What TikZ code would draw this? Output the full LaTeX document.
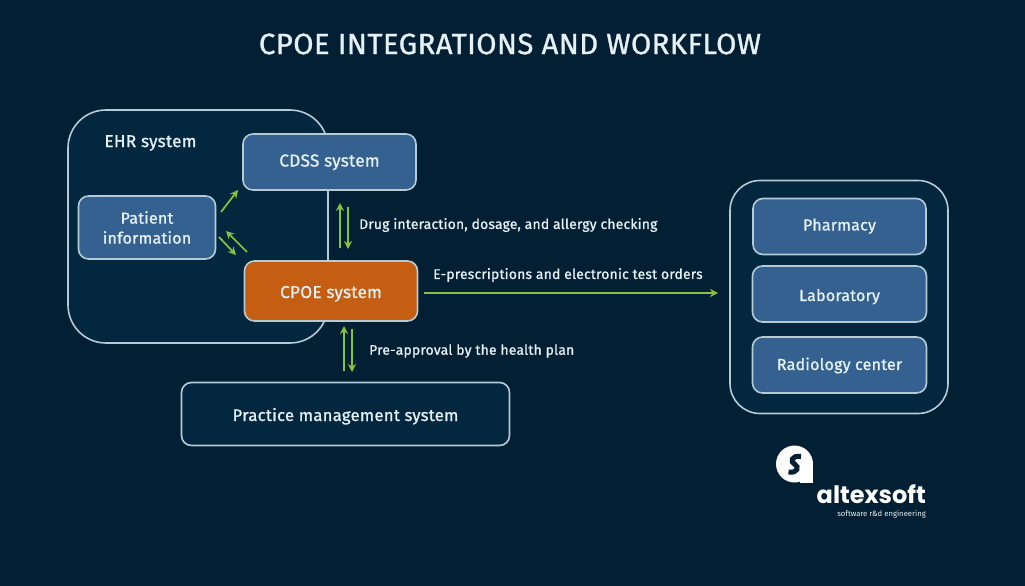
\documentclass[tikz,border=0pt]{standalone}
\usepackage{fontspec}
\setmainfont{Fira Sans}[FakeBold=1,LetterSpace=1.5]
\newfontfamily\logofont{Poppins}
\newfontfamily\tagfont{Fira Sans}
\usetikzlibrary{arrows.meta,calc}
\definecolor{bgnavy}{HTML}{031F33}
\definecolor{panel}{HTML}{02273F}
\definecolor{framec}{HTML}{B4CBD6}
\definecolor{bluebox}{HTML}{34618F}
\definecolor{orangebox}{HTML}{C55E12}
\definecolor{linkgreen}{HTML}{86C440}
\definecolor{inktext}{HTML}{E6F1F5}
% one line of box text, with its baseline a given distance below the box centre
\newcommand{\boxline}[2]{\raisebox{-#1}[0pt][0pt]{#2}}
\tikzset{
  x=1pt,y=-1pt,
  every node/.style={text=inktext,font=\fontsize{16}{20}\selectfont,inner sep=0pt,align=center},
  sysbox/.style={draw=framec,line width=1.6pt,rounded corners=10pt,minimum height=#1},
  container/.style={draw=framec,line width=1.6pt,fill=panel},
  bluefill/.style={sysbox=#1,fill=bluebox},
  link/.style={draw=linkgreen,line width=1.7pt,-{Stealth[length=8pt,width=8pt]}},
  caption/.style={anchor=west,font=\fontsize{13.9}{16}\selectfont},
  large/.style={font=\fontsize{17.2}{20}\selectfont},
}
\begin{document}
\begin{tikzpicture}
\useasboundingbox (0,0) rectangle (1025,586);
\fill[bgnavy] (0,0) rectangle (1025,586);
\node[font=\fontsize{29.3}{32}\selectfont] (title) at (510,44) {CPOE INTEGRATIONS AND WORKFLOW};

% EHR container with the systems it overlaps
\node[container,rounded corners=38pt,minimum width=260pt,minimum height=233pt] (ehr) at (198,226.5) {};
\node[large] (ehrlabel) at (150.5,143) {EHR system};
\node[bluefill=56pt,minimum width=173pt,large] (cdss) at (329.5,162) {\boxline{4.5pt}{CDSS system}};
\node[bluefill=63pt,minimum width=137pt] (patient) at (147,227.5) {Patient\\information};
\node[sysbox=60pt,fill=orangebox,minimum width=173pt,large] (cpoe) at (331,291) {\boxline{7pt}{CPOE system}};

% Practice management
\node[sysbox=63pt,fill=panel,minimum width=328pt] (pms) at (345.5,414) {\boxline{7pt}{\fontsize{16.7}{19}\selectfont Practice management system}};

% External parties
\node[container,rounded corners=30pt,minimum width=218pt,minimum height=233pt] (ext) at (839,297) {};
\node[bluefill=56pt,minimum width=173pt] (pharmacy) at (839.5,226.5) {\boxline{4pt}{Pharmacy}};
\node[bluefill=56pt,minimum width=174pt] (lab) at (839.5,294) {\boxline{7pt}{Laboratory}};
\node[bluefill=56pt,minimum width=174pt] (rad) at (839.5,365) {\boxline{5pt}{Radiology center}};

% Links between patient data and the two systems
\coordinate (pA) at (221,212);
\coordinate (pB) at (238,190);
\coordinate (pC) at (247,252);
\coordinate (pD) at (226,231);
\coordinate (pE) at (219,237);
\coordinate (pF) at (236,255);
\draw[link] (pA) -- (pB);
\draw[link] (pC) -- (pD);
\draw[link] (pE) -- (pF);

% Checking links
\coordinate (c1a) at (340,248);
\coordinate (c1b) at (340,203);
\coordinate (c2a) at (348,207);
\coordinate (c2b) at (348,249);
\draw[link] (c1a) -- (c1b);
\draw[link] (c2a) -- (c2b);
\node[caption] (drug) at (359,225) {Drug interaction, dosage, and allergy checking};

% Orders to the external parties
\coordinate (oA) at (424,293);
\coordinate (oB) at (718,293);
\draw[link] (oA) -- (oB);
\node[caption] (orders) at (433,275) {E-prescriptions and electronic test orders};

% Pre-approval links
\coordinate (a1a) at (344,371);
\coordinate (a1b) at (344,326);
\coordinate (a2a) at (352,329);
\coordinate (a2b) at (352,372);
\draw[link] (a1a) -- (a1b);
\draw[link] (a2a) -- (a2b);
\node[caption] (preapp) at (369,351) {Pre-approval by the health plan};

% Logo mark: speech bubble with a square corner and an S cut out of it
\fill[white] (794.5,464) circle[radius=18.5];
\fill[white] (800,464) rectangle (813,483);
\draw[bgnavy,line width=5pt] (801,456.5) .. controls (791,455) and (790,462) .. (795,464.5)
  .. controls (799,466.5) and (798,473.5) .. (788.5,472);
\node[anchor=east,text=white,font=\logofont\bfseries\fontsize{24}{26}\selectfont] (brand) at (926,494) {altexsoft};
\node[anchor=east,font=\tagfont\fontsize{7.7}{9}\selectfont] (tagline) at (926,514) {software r\&d engineering};
\end{tikzpicture}
\end{document}
